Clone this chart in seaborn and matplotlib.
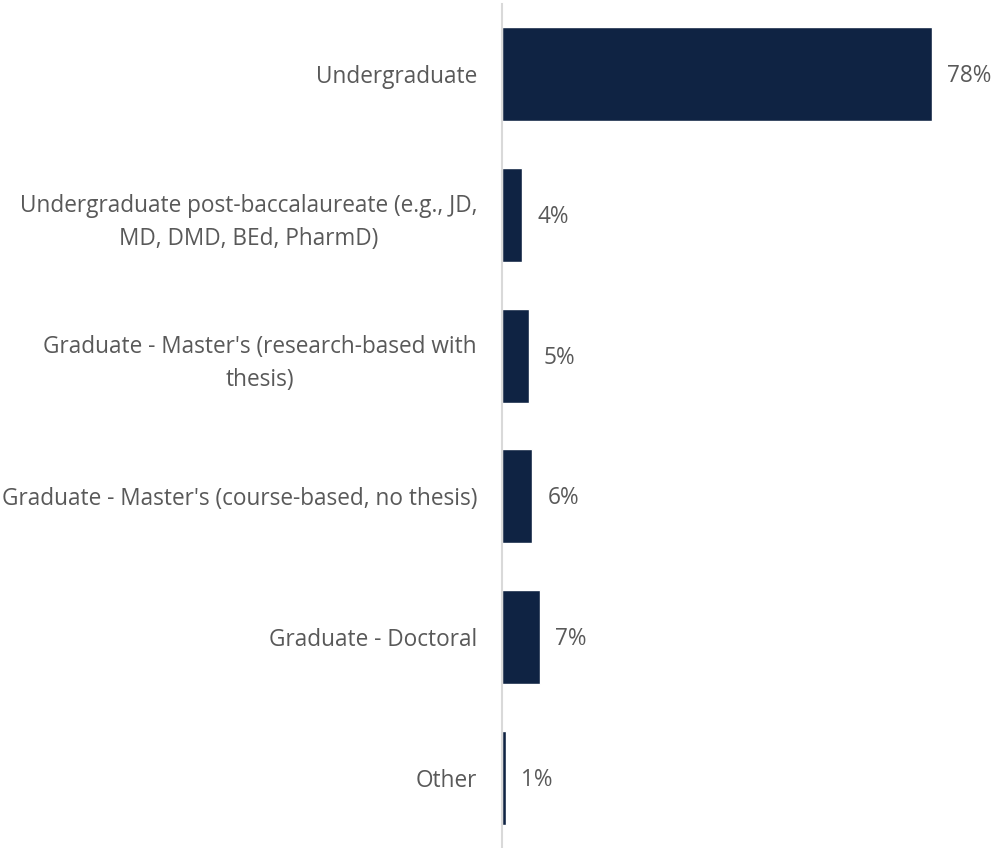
import matplotlib
matplotlib.use("Agg")
import matplotlib.pyplot as plt
import seaborn as sns
import pandas as pd

# Data ------------------------------------------------------------------------#
categories = [
    "Undergraduate",
    "Undergraduate post-baccalaureate (e.g., JD,\nMD, DMD, BEd, PharmD)",
    "Graduate - Master's (research-based with\nthesis)",
    "Graduate - Master's (course-based, no thesis)",
    "Graduate - Doctoral",
    "Other",
]
values = [78, 3.7, 4.9, 5.5, 6.9, 0.7]
value_labels = ["78%", "4%", "5%", "6%", "7%", "1%"]

df = pd.DataFrame({"category": categories, "value": values})

# Plot ------------------------------------------------------------------------#
sns.set_style("white")
plt.rcParams["font.family"] = ["Open Sans", "DejaVu Sans"]

bar_color = "#0F2343"
text_color = "#595959"

fig = plt.figure(figsize=(9.93, 8.48), dpi=100)
ax = fig.add_axes([502 / 993, 0.0, (970.6 - 502) / 993, 1 - 4 / 848])

sns.barplot(data=df, x="value", y="category", color=bar_color,
            width=0.67, saturation=1, ax=ax)

ax.set_xlim(0, 85)
ax.set_ylim(5.5, -0.5)
ax.set_xlabel("")
ax.set_ylabel("")
ax.set_xticks([])

for side in ["top", "right", "bottom"]:
    ax.spines[side].set_visible(False)
ax.spines["left"].set_color("#D9D9D9")
ax.spines["left"].set_linewidth(1.5)

ax.tick_params(axis="y", length=0, pad=18, labelsize=16.3, labelcolor=text_color)
for lbl in ax.get_yticklabels():
    lbl.set_multialignment("center")
    lbl.set_linespacing(1.5)

for i, (v, t) in enumerate(zip(values, value_labels)):
    ax.annotate(t, xy=(v, i), xytext=(15, -2), textcoords="offset pixels",
                ha="left", va="center", fontsize=16.3, color=text_color)

fig.savefig("out.png", dpi=100)
